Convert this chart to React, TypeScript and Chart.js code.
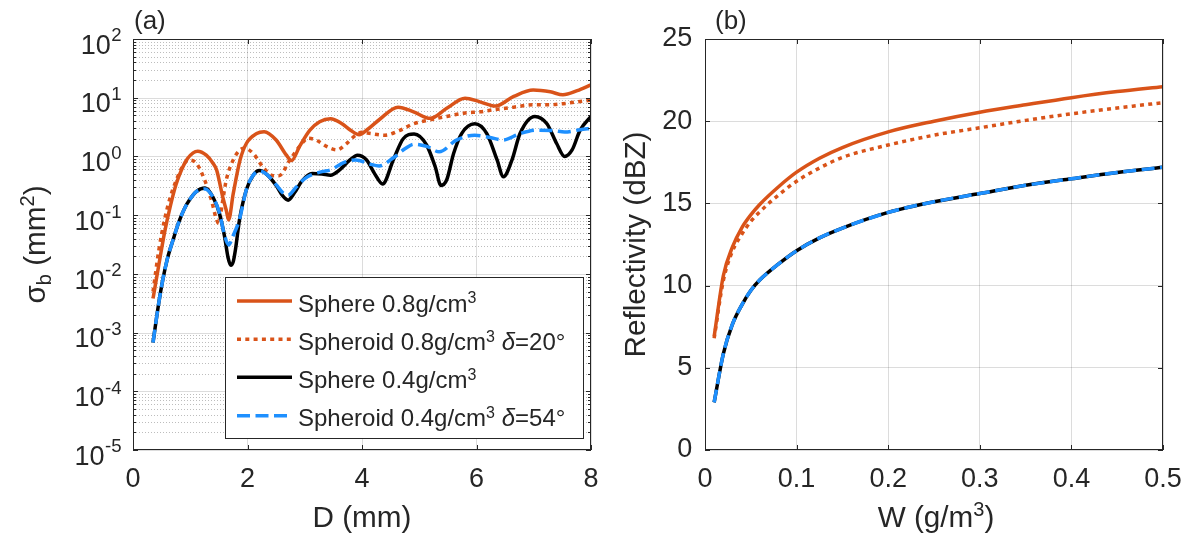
import React, { useEffect, useRef } from "react";
import { Chart, registerables } from "chart.js";

Chart.register(...registerables);

const FONT = "'Liberation Sans', Arial, Helvetica, sans-serif";
const INK = "#262626";
const ORANGE = "#D95319";
const BLUE = "#1E90FF";
const BLACK = "#000000";
const GRID_MAJOR = "rgba(38,38,38,0.16)";
const GRID_MINOR = "rgba(38,38,38,0.30)";

// ---------------- Panel (a): sigma_b (mm^2) vs D (mm) ----------------
const dSphere08 = [0.35, 0.45, 0.55, 0.65, 0.75, 0.85, 0.95, 1.05, 1.13, 1.28, 1.4, 1.46, 1.57, 1.63, 1.67, 1.75, 1.87, 1.98, 2.16, 2.29, 2.5, 2.68, 2.77, 2.91, 3.09, 3.26, 3.45, 3.65, 3.8, 3.95, 4.1, 4.31, 4.63, 4.9, 5.19, 5.48, 5.8, 6.06, 6.33, 6.65, 6.99, 7.29, 7.51, 7.76, 8.0];
const sigmaSphere08 = [0.0038, 0.014, 0.05, 0.14, 0.33, 0.6, 0.91, 1.15, 1.23, 1.05, 0.76, 0.59, 0.2, 0.12, 0.083, 0.23, 0.87, 1.66, 2.45, 2.63, 1.9, 1.05, 0.85, 1.48, 2.8, 3.9, 4.4, 3.6, 2.8, 2.35, 2.9, 4.3, 6.9, 5.75, 4.45, 6.6, 9.8, 8.5, 7.2, 10.5, 13.5, 12.6, 11.2, 13.2, 16.6];

const dSpheroid08 = [0.35, 0.45, 0.55, 0.65, 0.75, 0.85, 0.97, 1.11, 1.25, 1.37, 1.46, 1.5, 1.56, 1.63, 1.75, 1.87, 1.95, 2.1, 2.27, 2.45, 2.55, 2.74, 2.91, 3.06, 3.2, 3.38, 3.56, 3.73, 3.9, 4.0, 4.15, 4.4, 4.65, 4.9, 5.19, 5.48, 5.8, 6.06, 6.33, 6.65, 6.99, 7.29, 7.51, 7.76, 8.0];
const sigmaSpheroid08 = [0.005, 0.025, 0.083, 0.2, 0.38, 0.63, 0.87, 0.76, 0.4, 0.18, 0.083, 0.072, 0.16, 0.4, 0.87, 1.29, 1.38, 1.12, 0.66, 0.47, 0.47, 0.87, 1.48, 2.04, 1.9, 1.48, 1.29, 1.66, 2.35, 2.57, 2.45, 2.3, 2.75, 3.6, 4.2, 4.8, 5.5, 5.75, 6.3, 6.9, 7.6, 7.6, 7.9, 8.5, 9.1];

const dSphere04 = [0.35, 0.45, 0.52, 0.6, 0.7, 0.8, 0.9, 1.0, 1.1, 1.26, 1.4, 1.51, 1.6, 1.66, 1.71, 1.75, 1.79, 1.86, 1.98, 2.1, 2.21, 2.35, 2.5, 2.62, 2.71, 2.82, 2.95, 3.13, 3.3, 3.45, 3.61, 3.79, 3.92, 4.08, 4.22, 4.36, 4.55, 4.72, 4.91, 5.13, 5.28, 5.38, 5.48, 5.6, 5.74, 5.97, 6.18, 6.36, 6.47, 6.62, 6.76, 7.02, 7.23, 7.4, 7.54, 7.67, 7.81, 8.0];
const sigmaSphere04 = [0.00068, 0.0032, 0.0079, 0.018, 0.038, 0.076, 0.13, 0.19, 0.25, 0.29, 0.2, 0.107, 0.043, 0.019, 0.014, 0.016, 0.026, 0.083, 0.27, 0.48, 0.575, 0.48, 0.32, 0.21, 0.18, 0.24, 0.38, 0.51, 0.5, 0.48, 0.59, 0.87, 1.05, 0.87, 0.51, 0.34, 0.89, 2.0, 2.4, 1.55, 0.66, 0.32, 0.4, 1.12, 2.45, 3.6, 2.45, 0.87, 0.45, 0.87, 2.45, 4.8, 3.6, 1.66, 1.0, 1.29, 2.8, 4.8];

const dSpheroid04 = [0.35, 0.45, 0.52, 0.6, 0.7, 0.8, 0.9, 1.0, 1.1, 1.26, 1.4, 1.51, 1.6, 1.67, 1.75, 1.86, 1.98, 2.1, 2.22, 2.35, 2.5, 2.62, 2.71, 2.85, 3.0, 3.15, 3.3, 3.47, 3.67, 3.89, 4.14, 4.3, 4.55, 4.75, 4.91, 5.13, 5.35, 5.65, 5.97, 6.24, 6.46, 6.76, 7.05, 7.35, 7.54, 7.81, 8.0];
const sigmaSpheroid04 = [0.00068, 0.0032, 0.0079, 0.018, 0.038, 0.076, 0.13, 0.19, 0.25, 0.28, 0.2, 0.11, 0.045, 0.031, 0.045, 0.085, 0.27, 0.48, 0.56, 0.48, 0.33, 0.24, 0.22, 0.3, 0.42, 0.5, 0.55, 0.6, 0.78, 0.87, 0.74, 0.69, 0.95, 1.35, 1.62, 1.48, 1.2, 1.9, 2.3, 2.1, 1.9, 2.45, 2.8, 2.75, 2.6, 2.85, 3.0];

const xTicksA = [0, 2, 4, 6, 8];
const yDecadesA = [-5, -4, -3, -2, -1, 0, 1, 2];

// ---------------- Panel (b): reflectivity (dBZ) vs W (g/m^3) ----------------
const wContent = [0.01, 0.02, 0.03, 0.04, 0.05, 0.06, 0.08, 0.1, 0.125, 0.15, 0.2, 0.25, 0.3, 0.35, 0.4, 0.45, 0.5];
const zSphere08 = [6.9, 10.6, 12.35, 13.5, 14.3, 14.95, 16.0, 16.9, 17.75, 18.4, 19.35, 20.0, 20.55, 21.0, 21.43, 21.8, 22.1];
const zSpheroid08 = [6.8, 10.3, 12.1, 13.1, 13.9, 14.5, 15.5, 16.35, 17.15, 17.8, 18.55, 19.15, 19.6, 20.05, 20.45, 20.8, 21.13];
const zSphere04 = [2.9, 5.85, 7.65, 8.8, 9.7, 10.35, 11.3, 12.12, 12.9, 13.5, 14.45, 15.1, 15.6, 16.1, 16.5, 16.88, 17.2];
const zSpheroid04 = [2.9, 5.85, 7.65, 8.8, 9.7, 10.35, 11.3, 12.12, 12.9, 13.5, 14.45, 15.1, 15.6, 16.1, 16.5, 16.88, 17.2];

const xTicksB = [0, 0.1, 0.2, 0.3, 0.4, 0.5];
const yTicksB = [0, 5, 10, 15, 20, 25];

// ---------------- Styles ----------------
const LW = 3.5;
const DOT = [4, 4.3];
const DASH = [13, 5.5];

type Run = { t: string; size: number; dy?: number; italic?: boolean };

function fontOf(r: Run) {
  return `${r.italic ? "italic " : ""}${r.size}px ${FONT}`;
}

function drawRuns(ctx: CanvasRenderingContext2D, runs: Run[], x: number, y: number, align: "left" | "center" | "right") {
  let w = 0;
  for (const r of runs) {
    ctx.font = fontOf(r);
    w += ctx.measureText(r.t).width;
  }
  let cx = align === "left" ? x : align === "center" ? x - w / 2 : x - w;
  ctx.textAlign = "left";
  ctx.textBaseline = "alphabetic";
  for (const r of runs) {
    ctx.font = fontOf(r);
    ctx.fillText(r.t, cx, y + (r.dy || 0));
    cx += ctx.measureText(r.t).width;
  }
}

function seg(ctx: CanvasRenderingContext2D, x1: number, y1: number, x2: number, y2: number) {
  ctx.beginPath();
  ctx.moveTo(x1, y1);
  ctx.lineTo(x2, y2);
  ctx.stroke();
}

function pts(xs: number[], ys: number[]) {
  return xs.map((x, i) => ({ x, y: ys[i] }));
}

function drawBox(ctx: CanvasRenderingContext2D, a: any) {
  ctx.save();
  ctx.setLineDash([]);
  ctx.strokeStyle = INK;
  ctx.lineWidth = 1;
  ctx.strokeRect(Math.round(a.left) + 0.5, Math.round(a.top) + 0.5, Math.round(a.right) - Math.round(a.left) - 1, Math.round(a.bottom) - Math.round(a.top) - 1);
  ctx.restore();
}

const sup = (t: string): Run => ({ t, size: 16, dy: -8.4 });
const legendRows: { runs: Run[]; color: string; dash: number[] }[] = [
  { runs: [{ t: "Sphere 0.8g/cm", size: 24 }, sup("3")], color: ORANGE, dash: [] },
  { runs: [{ t: "Spheroid 0.8g/cm", size: 24 }, sup("3"), { t: " ", size: 24 }, { t: "δ", size: 24, italic: true }, { t: "=20°", size: 24 }], color: ORANGE, dash: DOT },
  { runs: [{ t: "Sphere 0.4g/cm", size: 24 }, sup("3")], color: BLACK, dash: [] },
  { runs: [{ t: "Spheroid 0.4g/cm", size: 24 }, sup("3"), { t: " ", size: 24 }, { t: "δ", size: 24, italic: true }, { t: "=54°", size: 24 }], color: BLUE, dash: DASH },
];

const panelAPlugin = {
  id: "panelA",
  beforeDatasetsDraw(chart: any) {
    const { ctx, chartArea: a, scales } = chart;
    const y = scales.y;
    ctx.save();
    ctx.lineWidth = 1;
    ctx.strokeStyle = GRID_MINOR;
    ctx.setLineDash([1, 2]);
    for (let k = yDecadesA[0]; k < yDecadesA[yDecadesA.length - 1]; k++) {
      for (let m = 2; m <= 9; m++) {
        const py = Math.round(y.getPixelForValue(m * Math.pow(10, k))) + 0.5;
        seg(ctx, a.left, py, a.right, py);
      }
    }
    ctx.setLineDash([]);
    ctx.strokeStyle = GRID_MAJOR;
    for (const k of yDecadesA) {
      const py = Math.round(y.getPixelForValue(Math.pow(10, k))) + 0.5;
      seg(ctx, a.left, py, a.right, py);
    }
    ctx.restore();
  },
  afterDatasetsDraw(chart: any) {
    const { ctx, chartArea: a, scales } = chart;
    const x = scales.x;
    const y = scales.y;
    drawBox(ctx, a);
    ctx.save();
    ctx.strokeStyle = INK;
    ctx.lineWidth = 1;
    for (const v of xTicksA) {
      const px = Math.round(x.getPixelForValue(v)) + 0.5;
      seg(ctx, px, a.bottom, px, a.bottom - 5);
      seg(ctx, px, a.top, px, a.top + 5);
    }
    for (let k = yDecadesA[0]; k <= yDecadesA[yDecadesA.length - 1]; k++) {
      for (let m = 1; m <= 9; m++) {
        if (k === yDecadesA[yDecadesA.length - 1] && m > 1) break;
        const py = Math.round(y.getPixelForValue(m * Math.pow(10, k))) + 0.5;
        const len = m === 1 ? 5 : 3;
        seg(ctx, a.left, py, a.left + len, py);
        seg(ctx, a.right, py, a.right - len, py);
      }
    }
    // y tick labels 10^k
    ctx.fillStyle = INK;
    for (const k of yDecadesA) {
      const py = y.getPixelForValue(Math.pow(10, k));
      const expRun: Run = { t: String(k), size: 18.6 };
      ctx.font = fontOf(expRun);
      const ew = ctx.measureText(expRun.t).width;
      const right = a.left - 11.5;
      ctx.textAlign = "left";
      ctx.textBaseline = "alphabetic";
      ctx.fillText(expRun.t, right - ew, py + 2.4);
      ctx.font = `27px ${FONT}`;
      ctx.textAlign = "right";
      ctx.fillText("10", right - ew - 0.5, py + 14.7);
    }
    // axis titles
    drawRuns(ctx, [{ t: "D (mm)", size: 29.7 }], (a.left + a.right) / 2, 527, "center");
    ctx.save();
    ctx.translate(45, (a.top + a.bottom) / 2);
    ctx.rotate(-Math.PI / 2);
    drawRuns(ctx, [
      { t: "σ", size: 29.7 },
      { t: "b", size: 20, dy: 6 },
      { t: " (mm", size: 29.7 },
      { t: "2", size: 20, dy: -11 },
      { t: ")", size: 29.7 },
    ], 0, 0, "center");
    ctx.restore();
    // panel letter
    drawRuns(ctx, [{ t: "(a)", size: 26 }], 134, 29, "left");
    // legend
    const L = { left: 225, top: 277, right: 583, bottom: 438 };
    ctx.fillStyle = "#ffffff";
    ctx.fillRect(L.left, L.top, L.right - L.left, L.bottom - L.top);
    ctx.strokeStyle = INK;
    ctx.lineWidth = 1;
    ctx.strokeRect(L.left + 0.5, L.top + 0.5, L.right - L.left, L.bottom - L.top);
    const rowY = [301, 339.3, 377.3, 415.7];
    legendRows.forEach((row, i) => {
      ctx.save();
      ctx.strokeStyle = row.color;
      ctx.lineWidth = LW;
      ctx.lineCap = "butt";
      ctx.setLineDash(row.dash);
      seg(ctx, 237, rowY[i], 292, rowY[i]);
      ctx.restore();
      ctx.fillStyle = INK;
      drawRuns(ctx, row.runs, 298, rowY[i] + 10.6, "left");
    });
    ctx.restore();
  },
};

const panelBPlugin = {
  id: "panelB",
  afterDatasetsDraw(chart: any) {
    const { ctx, chartArea: a, scales } = chart;
    const x = scales.x;
    const y = scales.y;
    drawBox(ctx, a);
    ctx.save();
    ctx.strokeStyle = INK;
    ctx.lineWidth = 1;
    for (const v of xTicksB) {
      const px = Math.round(x.getPixelForValue(v)) + 0.5;
      seg(ctx, px, a.bottom, px, a.bottom - 5);
      seg(ctx, px, a.top, px, a.top + 5);
    }
    for (const v of yTicksB) {
      const py = Math.round(y.getPixelForValue(v)) + 0.5;
      seg(ctx, a.left, py, a.left + 5, py);
      seg(ctx, a.right, py, a.right - 5, py);
    }
    ctx.fillStyle = INK;
    drawRuns(ctx, [{ t: "W (g/m", size: 29.7 }, { t: "3", size: 20, dy: -11 }, { t: ")", size: 29.7 }], 336, 527, "center");
    ctx.save();
    ctx.translate(45, (a.top + a.bottom) / 2);
    ctx.rotate(-Math.PI / 2);
    drawRuns(ctx, [{ t: "Reflectivity (dBZ)", size: 29.7 }], 0, 0, "center");
    ctx.restore();
    drawRuns(ctx, [{ t: "(b)", size: 26 }], 115, 29, "left");
    ctx.restore();
  },
};

const tickFont = { family: FONT, size: 27, lineHeight: 1.2 };

function lineDs(label: string, data: any[], color: string, dash: number[], order: number) {
  return {
    label,
    data,
    borderColor: color,
    backgroundColor: color,
    borderWidth: LW,
    borderDash: dash,
    borderCapStyle: "butt" as const,
    borderJoinStyle: "round" as const,
    pointRadius: 0,
    fill: false,
    cubicInterpolationMode: "monotone" as const,
    order,
  };
}

function configA(): any {
  return {
    type: "line",
    data: {
      datasets: [
        lineDs("Sphere 0.8g/cm3", pts(dSphere08, sigmaSphere08), ORANGE, [], 4),
        lineDs("Spheroid 0.8g/cm3 δ=20°", pts(dSpheroid08, sigmaSpheroid08), ORANGE, DOT, 3),
        lineDs("Sphere 0.4g/cm3", pts(dSphere04, sigmaSphere04), BLACK, [], 2),
        lineDs("Spheroid 0.4g/cm3 δ=54°", pts(dSpheroid04, sigmaSpheroid04), BLUE, DASH, 1),
      ],
    },
    options: {
      responsive: false,
      animation: false,
      events: [],
      layout: { padding: { top: 39, right: 9, left: 0, bottom: 0 } },
      plugins: { legend: { display: false }, tooltip: { enabled: false } },
      scales: {
        x: {
          type: "linear",
          min: 0,
          max: 8,
          ticks: { stepSize: 2, font: tickFont, color: INK, padding: 13.8, maxRotation: 0 },
          grid: { color: GRID_MAJOR, lineWidth: 1, drawTicks: false },
          border: { display: false },
          afterFit: (s: any) => {
            s.height = 88;
            s.paddingLeft = 0;
            s.paddingRight = 0;
          },
        },
        y: {
          type: "logarithmic",
          min: 1e-5,
          max: 1e2,
          ticks: { display: false },
          grid: { display: false },
          border: { display: false },
          afterFit: (s: any) => {
            s.width = 133;
            s.paddingTop = 0;
            s.paddingBottom = 0;
          },
        },
      },
    },
    plugins: [panelAPlugin],
  };
}

function configB(): any {
  return {
    type: "line",
    data: {
      datasets: [
        lineDs("Sphere 0.8g/cm3", pts(wContent, zSphere08), ORANGE, [], 4),
        lineDs("Spheroid 0.8g/cm3 δ=20°", pts(wContent, zSpheroid08), ORANGE, DOT, 3),
        lineDs("Sphere 0.4g/cm3", pts(wContent, zSphere04), BLACK, [], 2),
        lineDs("Spheroid 0.4g/cm3 δ=54°", pts(wContent, zSpheroid04), BLUE, DASH, 1),
      ],
    },
    options: {
      responsive: false,
      animation: false,
      events: [],
      layout: { padding: { top: 39, right: 30, left: 0, bottom: 0 } },
      plugins: { legend: { display: false }, tooltip: { enabled: false } },
      scales: {
        x: {
          type: "linear",
          min: 0,
          max: 0.5,
          ticks: { stepSize: 0.1, font: tickFont, color: INK, padding: 13.8, maxRotation: 0 },
          grid: { color: GRID_MAJOR, lineWidth: 1, drawTicks: false },
          border: { display: false },
          afterFit: (s: any) => {
            s.height = 88;
            s.paddingLeft = 0;
            s.paddingRight = 0;
          },
        },
        y: {
          type: "linear",
          min: 0,
          max: 25,
          ticks: { stepSize: 5, font: tickFont, color: INK, padding: 12.7 },
          grid: { color: GRID_MAJOR, lineWidth: 1, drawTicks: false },
          border: { display: false },
          afterFit: (s: any) => {
            s.width = 105;
            s.paddingTop = 0;
            s.paddingBottom = 0;
          },
        },
      },
    },
    plugins: [panelBPlugin],
  };
}

export default function App() {
  const refA = useRef<HTMLCanvasElement>(null);
  const refB = useRef<HTMLCanvasElement>(null);
  useEffect(() => {
    const a = new Chart(refA.current as HTMLCanvasElement, configA());
    const b = new Chart(refB.current as HTMLCanvasElement, configB());
    return () => {
      a.destroy();
      b.destroy();
    };
  }, []);
  return (
    <div style={{ position: "absolute", left: 0, top: 0, width: 1193, height: 538, background: "#ffffff", overflow: "hidden" }}>
      <canvas ref={refA} width={600} height={538} style={{ position: "absolute", left: 0, top: 0, width: 600, height: 538 }} />
      <canvas ref={refB} width={593} height={538} style={{ position: "absolute", left: 600, top: 0, width: 593, height: 538 }} />
    </div>
  );
}
